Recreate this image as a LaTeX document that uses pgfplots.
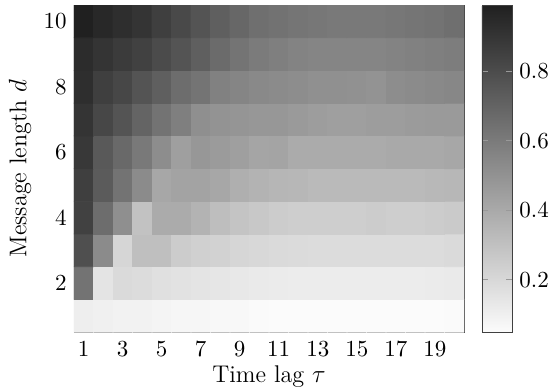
\documentclass[border=0pt]{standalone}
\usepackage{pgfplots}
\pgfplotsset{compat=1.18}
\begin{document}
\begin{tikzpicture}
\begin{axis}[
  name=main,
  scale only axis,
  width=185.7pt, height=155.7pt,
  xmin=0.5, xmax=20.5, ymin=0.5, ymax=10.5,
  enlargelimits=false,
  axis line style={black!75},
  xtick={1,3,...,19},
  ytick={2,4,...,10},
  minor xtick={1.5,2.5,...,19.5},
  minor ytick={1.5,3.5,...,9.5},
  major tick length=0pt,
  minor tick length=3pt,
  minor tick style={black!40, line width=0.5pt},
  tick label style={font=\fontsize{11}{13}\selectfont},
  label style={font=\fontsize{11.5}{14}\selectfont},
  xticklabel style={yshift=-1pt},
  xlabel={Time lag $\tau$},
  ylabel={Message length $d$},
  xlabel style={at={(axis description cs:0.5,-0.136)}, anchor=center},
  ylabel style={at={(axis description cs:-0.138,0.5)}, anchor=center},
  colormap={gw}{gray(0cm)=(0.986); gray(1cm)=(0.125)},
  point meta min=0.05, point meta max=0.99,
  colorbar,
  colorbar style={
    at={(parent axis.north east)}, anchor=north west, xshift=0pt,
    width=14.3pt,
    ytick={0.2,0.4,0.6,0.8},
    axis line style={black!75},
    major tick length=3pt,
    major tick style={black!40, line width=0.5pt},
    tick label style={font=\fontsize{11}{13}\selectfont},
    yticklabel style={/pgf/number format/fixed, /pgf/number format/precision=1},
  },
]
\addplot[matrix plot*, mesh/rows=10, mesh/cols=20, point meta=explicit] coordinates {
(1,1)[0.107] (2,1)[0.099] (3,1)[0.090] (4,1)[0.090] (5,1)[0.082] (6,1)[0.073] (7,1)[0.073] (8,1)[0.065] (9,1)[0.065] (10,1)[0.056] (11,1)[0.050] (12,1)[0.050] (13,1)[0.050] (14,1)[0.050] (15,1)[0.050] (16,1)[0.050] (17,1)[0.050] (18,1)[0.050] (19,1)[0.052] (20,1)[0.056]
(1,2)[0.630] (2,2)[0.150] (3,2)[0.193] (4,2)[0.185] (5,2)[0.168] (6,2)[0.159] (7,2)[0.150] (8,2)[0.142] (9,2)[0.133] (10,2)[0.125] (11,2)[0.120] (12,2)[0.116] (13,2)[0.116] (14,2)[0.116] (15,2)[0.116] (16,2)[0.116] (17,2)[0.116] (18,2)[0.116] (19,2)[0.120] (20,2)[0.125]
(1,3)[0.784] (2,3)[0.527] (3,3)[0.210] (4,3)[0.305] (5,3)[0.305] (6,3)[0.253] (7,3)[0.236] (8,3)[0.228] (9,3)[0.210] (10,3)[0.202] (11,3)[0.193] (12,3)[0.189] (13,3)[0.185] (14,3)[0.185] (15,3)[0.185] (16,3)[0.185] (17,3)[0.185] (18,3)[0.185] (19,3)[0.185] (20,3)[0.193]
(1,4)[0.844] (2,4)[0.656] (3,4)[0.510] (4,4)[0.295] (5,4)[0.390] (6,4)[0.390] (7,4)[0.356] (8,4)[0.313] (9,4)[0.287] (10,4)[0.270] (11,4)[0.253] (12,4)[0.245] (13,4)[0.245] (14,4)[0.245] (15,4)[0.245] (16,4)[0.253] (17,4)[0.245] (18,4)[0.245] (19,4)[0.253] (20,4)[0.262]
(1,5)[0.853] (2,5)[0.733] (3,5)[0.630] (4,5)[0.527] (5,5)[0.407] (6,5)[0.424] (7,5)[0.424] (8,5)[0.407] (9,5)[0.373] (10,5)[0.356] (11,5)[0.347] (12,5)[0.339] (13,5)[0.330] (14,5)[0.330] (15,5)[0.330] (16,5)[0.330] (17,5)[0.330] (18,5)[0.330] (19,5)[0.335] (20,5)[0.339]
(1,6)[0.879] (2,6)[0.741] (3,6)[0.673] (4,6)[0.604] (5,6)[0.519] (6,6)[0.442] (7,6)[0.476] (8,6)[0.459] (9,6)[0.442] (10,6)[0.416] (11,6)[0.420] (12,6)[0.390] (13,6)[0.390] (14,6)[0.390] (15,6)[0.390] (16,6)[0.390] (17,6)[0.399] (18,6)[0.399] (19,6)[0.399] (20,6)[0.407]
(1,7)[0.900] (2,7)[0.819] (3,7)[0.763] (4,7)[0.694] (5,7)[0.630] (6,7)[0.579] (7,7)[0.510] (8,7)[0.493] (9,7)[0.484] (10,7)[0.476] (11,7)[0.476] (12,7)[0.463] (13,7)[0.450] (14,7)[0.442] (15,7)[0.442] (16,7)[0.450] (17,7)[0.450] (18,7)[0.459] (19,7)[0.463] (20,7)[0.463]
(1,8)[0.922] (2,8)[0.853] (3,8)[0.819] (4,8)[0.763] (5,8)[0.716] (6,8)[0.656] (7,8)[0.626] (8,8)[0.570] (9,8)[0.553] (10,8)[0.536] (11,8)[0.527] (12,8)[0.519] (13,8)[0.506] (14,8)[0.506] (15,8)[0.502] (16,8)[0.493] (17,8)[0.519] (18,8)[0.527] (19,8)[0.536] (20,8)[0.544]
(1,9)[0.930] (2,9)[0.896] (3,9)[0.870] (4,9)[0.844] (5,9)[0.801] (6,9)[0.763] (7,9)[0.716] (8,9)[0.664] (9,9)[0.626] (10,9)[0.596] (11,9)[0.579] (12,9)[0.562] (13,9)[0.553] (14,9)[0.553] (15,9)[0.553] (16,9)[0.553] (17,9)[0.562] (18,9)[0.570] (19,9)[0.579] (20,9)[0.587]
(1,10)[0.981] (2,10)[0.947] (3,10)[0.922] (4,10)[0.896] (5,10)[0.853] (6,10)[0.810] (7,10)[0.763] (8,10)[0.716] (9,10)[0.682] (10,10)[0.647] (11,10)[0.634] (12,10)[0.622] (13,10)[0.613] (14,10)[0.604] (15,10)[0.604] (16,10)[0.604] (17,10)[0.613] (18,10)[0.622] (19,10)[0.630] (20,10)[0.647]
};
\end{axis}
\pgfresetboundingbox
\path[use as bounding box] ([shift={(-35.2pt,-26.7pt)}]main.south west) rectangle ([shift={(43.3pt,2.4pt)}]main.north east);
\end{tikzpicture}
\end{document}
